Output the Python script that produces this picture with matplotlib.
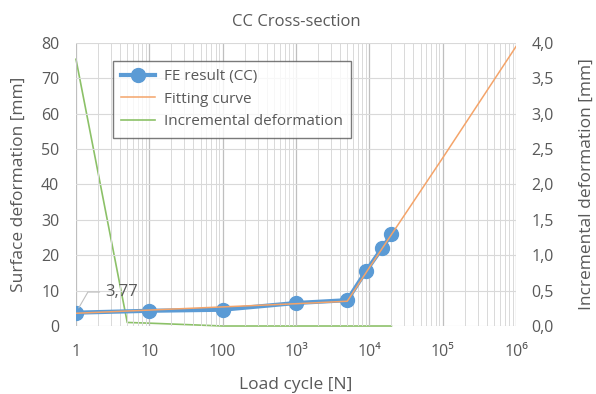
import matplotlib.pyplot as plt
from matplotlib.ticker import LogLocator, NullFormatter

plt.rcParams['font.family'] = ['Open Sans', 'DejaVu Sans']

# FE result points
cycles = [1, 10, 100, 1000, 5000, 9000, 15000, 20000]
surface = [3.77, 4.3, 4.6, 6.5, 7.3, 15.5, 22.1, 25.9]

# fitting curve
fit_cycles = [1, 10, 100, 1000, 5000, 10000, 100000, 1000000]
fit_vals = [3.6, 4.5, 5.4, 6.3, 7.0, 16.5, 47.5, 79.0]

# incremental deformation (right axis)
inc_cycles = [1, 5, 10, 100, 1000, 5000, 9000, 15000, 20000]
inc_vals = [3.77, 0.05, 0.04, 0.0, 0.0, 0.0, 0.0, 0.0, 0.0]

xtick_vals = [1, 10, 100, 1e3, 1e4, 1e5, 1e6]
xtick_labels = ['1', '10', '100', '10³', '10⁴', '10⁵', '10⁶']
left_ticks = [0, 10, 20, 30, 40, 50, 60, 70, 80]
right_ticks = [0, 0.5, 1.0, 1.5, 2.0, 2.5, 3.0, 3.5, 4.0]

txt = '#595959'
fig = plt.figure(figsize=(5.96, 3.94), dpi=100)
ax = fig.add_axes([0.1275, 0.1726, 0.7383, 0.7183])
ax2 = ax.twinx()

ax.set_xscale('log')
ax.set_xlim(1, 1e6)
ax.set_ylim(0, 80)
ax2.set_ylim(0, 4)

ax.xaxis.set_minor_locator(LogLocator(base=10, subs=range(2, 10), numticks=20))
ax.xaxis.set_minor_formatter(NullFormatter())
ax.set_xticks(xtick_vals, xtick_labels)
ax.set_yticks(left_ticks)
ax2.set_yticks(right_ticks, [f'{v:.1f}'.replace('.', ',') for v in right_ticks])

ax.grid(True, which='major', axis='x', color='#BFBFBF', lw=0.9)
ax.grid(True, which='minor', axis='x', color='#D9D9D9', lw=0.7)
ax.grid(True, which='major', axis='y', color='#D9D9D9', lw=0.8)
ax.set_axisbelow(True)

for a in (ax, ax2):
    for s in a.spines.values():
        s.set_visible(False)
    a.tick_params(which='both', length=0, colors=txt, labelsize=11.5)
ax.tick_params(axis='x', pad=13)
ax.tick_params(axis='y', pad=12)
ax2.tick_params(axis='y', pad=11)

l1, = ax.plot(cycles, surface, color='#5B9BD5', lw=3, marker='o', ms=10,
              label='FE result (CC)', zorder=3)
l2, = ax.plot(fit_cycles, fit_vals, color='#F4A46A', lw=1.1,
              label='Fitting curve', zorder=4)
l3, = ax2.plot(inc_cycles, inc_vals, color='#8CC168', lw=1.2,
               label='Incremental deformation', clip_on=False)
ax.set_zorder(ax2.get_zorder() + 1)
ax.patch.set_visible(False)

ax.annotate('3,77', xy=(1, 3.77), xytext=(2.5, 9.6), color=txt, fontsize=12,
            va='center',
            arrowprops=dict(arrowstyle='-', color='#BFBFBF', lw=0.8,
                            connectionstyle='angle,angleA=0,angleB=60,rad=0',
                            shrinkA=2, shrinkB=4))

leg = ax.legend(handles=[l1, l2, l3], loc='upper left',
                bbox_to_anchor=(0.066, 0.965), fontsize=11, frameon=True,
                fancybox=False, edgecolor='#595959', labelcolor=txt,
                handlelength=2.2, handletextpad=0.6, borderpad=0.55,
                labelspacing=0.5)
leg.get_frame().set_linewidth(1.0)

ax.set_title('CC Cross-section', color=txt, fontsize=12, pad=12)
ax.set_xlabel('Load cycle [N]', color=txt, fontsize=12.5, labelpad=12)
ax.set_ylabel('Surface deformation [mm]', color=txt, fontsize=12.5, labelpad=10)
ax2.set_ylabel('Incremental deformation [mm]', color=txt, fontsize=12.5, labelpad=18)

fig.savefig('out.png', dpi=100)
